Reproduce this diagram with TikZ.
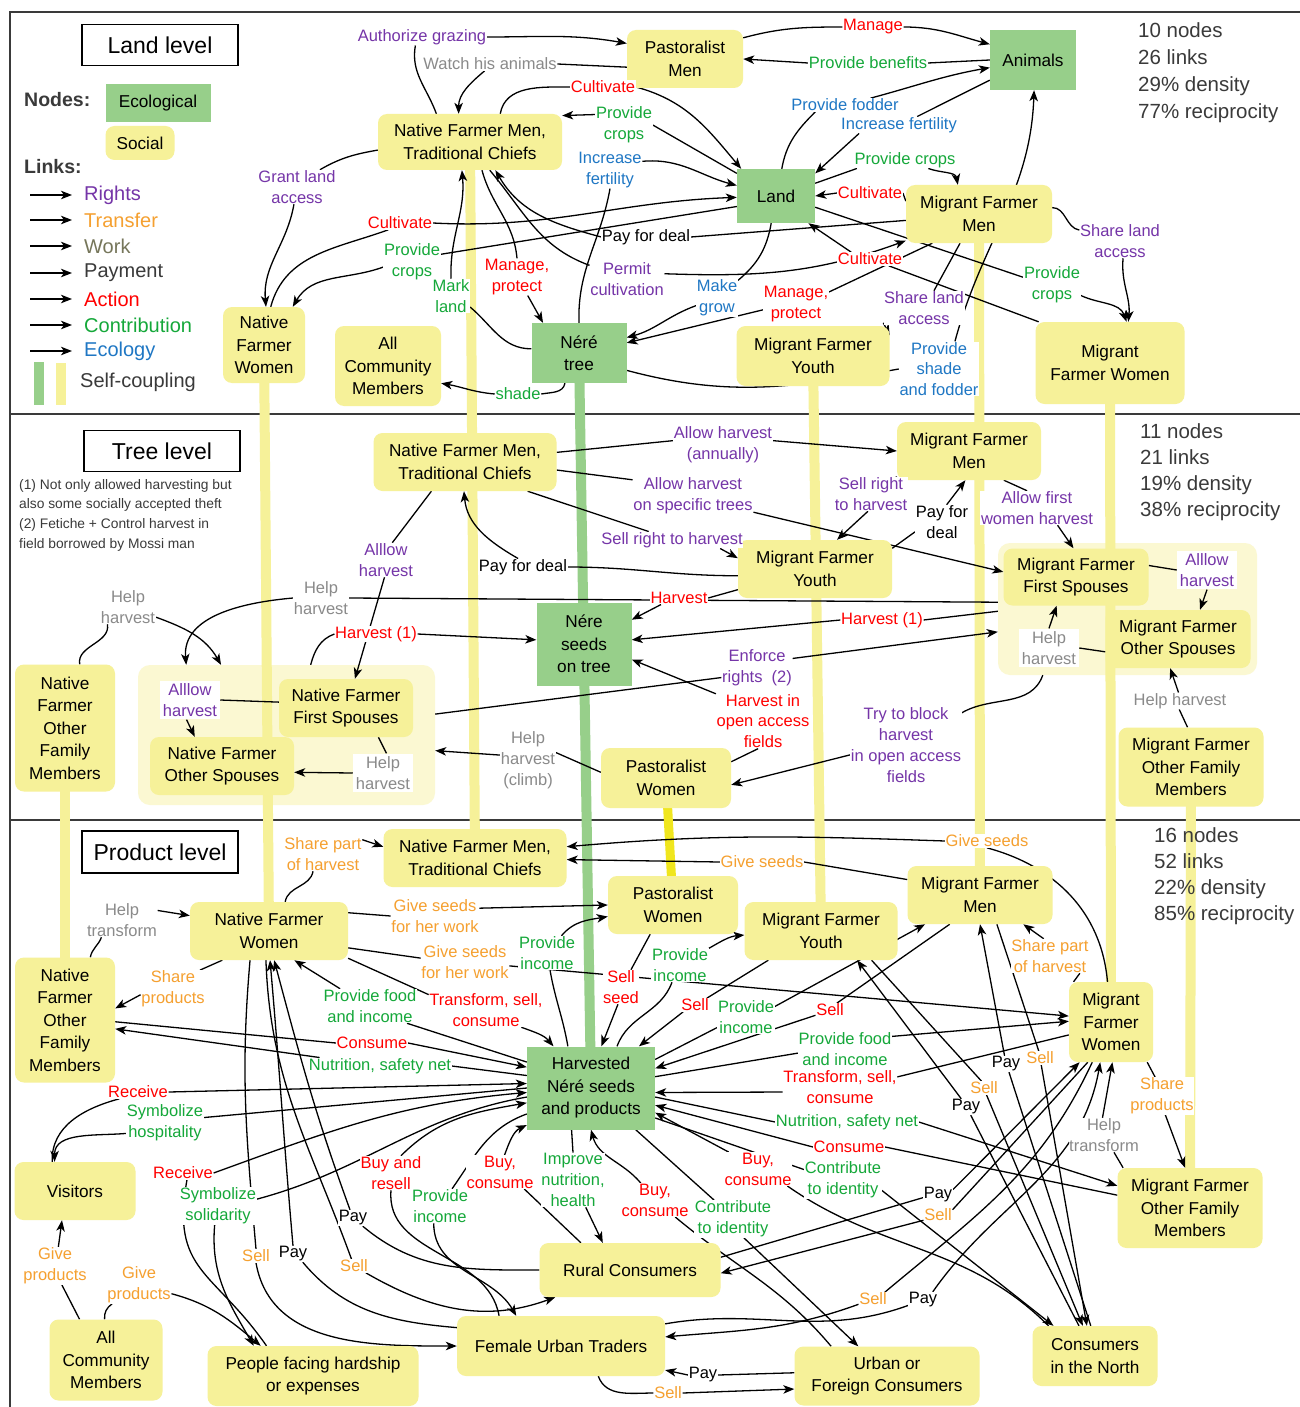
\documentclass[tikz,border=0pt]{standalone}
\usepackage{fontspec}
\setmainfont{Liberation Sans}
\usetikzlibrary{arrows.meta}
\pgfdeclarelayer{bg}
\pgfdeclarelayer{grp}
\pgfdeclarelayer{bars}
\pgfdeclarelayer{edges}
\pgfsetlayers{bg,grp,bars,edges,main}
\definecolor{ylw}{HTML}{F6F199}
\definecolor{grn}{HTML}{97CF8A}
\definecolor{grpc}{HTML}{FBF8D2}
\definecolor{crt}{HTML}{7535A8}
\definecolor{ctr}{HTML}{F5A030}
\definecolor{cwk}{HTML}{8A8A8A}
\definecolor{cwkl}{HTML}{76765A}
\definecolor{cac}{HTML}{FF0000}
\definecolor{cct}{HTML}{15A83A}
\definecolor{cec}{HTML}{1F77C4}
\definecolor{dkg}{HTML}{3A3A3A}
\definecolor{pwbar}{HTML}{F0E61E}
\newcommand\nodefnt{\fontsize{17.2}{22.5}\selectfont}
\newcommand\lblfnt{\fontsize{16.5}{20.8}\selectfont}
\newcommand\legfnt{\fontsize{20}{24}\selectfont}
\newcommand\statfntA{\fontsize{20.5}{27}\selectfont}
\newcommand\statfntB{\fontsize{20.5}{26}\selectfont}
\newcommand\ttlfnt{\fontsize{23}{27}\selectfont}
\newcommand\fnfnt{\fontsize{13.8}{19.7}\selectfont}
\begin{document}
\begin{tikzpicture}[x=1pt,y=-1pt,
 soc/.style={fill=ylw, rounded corners=9pt, align=center, font=\nodefnt, inner sep=1pt},
 eco/.style={fill=grn, align=center, font=\nodefnt, inner sep=1pt},
 sz/.style 2 args={minimum width=#1pt, minimum height=#2pt},
 lb/.style={fill=white, inner sep=0.6pt, align=center, font=\lblfnt},
 wb/.style={fill=white, inner sep=3pt, align=center, font=\lblfnt},
 rt/.style={text=crt}, tr/.style={text=ctr}, wk/.style={text=cwk}, py/.style={text=black},
 ac/.style={text=cac}, ct/.style={text=cct}, ec/.style={text=cec},
 ed/.style={draw=black, line width=1.3pt, -{Stealth[length=11pt,width=8.5pt,inset=3pt]}},
 ybar/.style={draw=ylw, line width=10pt},
 gbar/.style={draw=grn, line width=10pt},
 frame/.style={draw=dkg, line width=2pt},
 ttl/.style={draw=black, line width=1.3pt, font=\ttlfnt, inner sep=2pt}]
\useasboundingbox (0,0) rectangle (1300,1407);
\begin{pgfonlayer}{bg}
\fill[white] (0,0) rectangle (1300,1407);
\draw[frame] (10,1407) -- (10,12) -- (1300,12);
\draw[frame] (10,414) -- (1300,414);
\draw[frame] (10,820) -- (1300,820);
\end{pgfonlayer}

% ================= LEGEND =================
\node[ttl,sz={156}{41}] (tl1) at (160,45) {Land level};
\node[anchor=west, font=\bfseries\fontsize{19.5}{22}\selectfont, text=dkg, inner sep=0pt] (legN) at (24,100) {Nodes:};
\node[eco,sz={105}{38}] (legE) at (158,103) {Ecological};
\node[soc,sz={69}{34}] (legS) at (140,143) {Social};
\node[anchor=west, font=\bfseries\fontsize{19.5}{22}\selectfont, text=dkg, inner sep=0pt] (legL) at (24,167) {Links:};
\foreach \yy/\lgtxt/\lgcol in {195/Rights/crt,220/Transfer/ctr,246/Work/cwkl,273/Payment/dkg,299/Action/cac,325/Contribution/cct,351/Ecology/cec}{
  \coordinate (lgs\yy) at (30,\yy);
  \coordinate (lge\yy) at (72,\yy);
  \node[anchor=west, font=\legfnt, text=\lgcol, inner sep=0pt] (lgt\yy) at (84,\yy) {\lgtxt};
  \draw[ed] (lgs\yy) -- (lge\yy);
}
\fill[grn] (34,362) rectangle (44,405);
\fill[ylw] (56,363) rectangle (66,405);
\node[anchor=west, font=\legfnt, text=dkg, inner sep=0pt] (legSC) at (80,382) {Self-coupling};

\node[anchor=north west, align=left, font=\statfntA, text=dkg, inner sep=0pt] (st1) at (1138,22) {10 nodes\\26 links\\29\% density\\77\% reciprocity};
\node[anchor=north west, align=left, font=\statfntB, text=dkg, inner sep=0pt] (st2) at (1140,423) {11 nodes\\21 links\\19\% density\\38\% reciprocity};
\node[anchor=north west, align=left, font=\statfntB, text=dkg, inner sep=0pt] (st3) at (1154,827) {16 nodes\\52 links\\22\% density\\85\% reciprocity};

\node[ttl,sz={156}{41}] (tl2) at (162,451) {Tree level};
\node[anchor=north west, align=left, font=\fnfnt, text=dkg, inner sep=0pt] (fn) at (19,479) {(1) Not only allowed harvesting but\\also some socially accepted theft\\(2) Fetiche + Control harvest in\\field borrowed by Mossi man};
\node[ttl,sz={156}{42}] (tl3) at (160,852) {Product level};

% ================= LAND LEVEL =================
\node[soc,sz={116}{58}] (pm1) at (685,59) {Pastoralist\\Men};
\node[eco,sz={86}{60}] (an1) at (1033,60) {Animals};
\node[soc,sz={184}{56}] (nfm1) at (470,142) {Native Farmer Men,\\Traditional Chiefs};
\node[eco,sz={78}{54}] (la1) at (776,196) {Land};
\node[soc,sz={146}{58}] (mfm1) at (979,214) {Migrant Farmer\\Men};
\node[soc,sz={82}{76}] (nfw1) at (264,345) {Native\\Farmer\\Women};
\node[soc,sz={106}{80}] (ac1) at (388,366) {All\\Community\\Members};
\node[eco,sz={95}{60}] (nt1) at (579,353) {Néré\\tree};
\node[soc,sz={153}{60}] (mfy1) at (813,356) {Migrant Farmer\\Youth};
\node[soc,sz={149}{82}] (mfw1) at (1110,363) {Migrant\\Farmer Women};

\node[lb,rt] (Lauth) at (422,37) {Authorize grazing};
\node[lb,wk] (Lwatch) at (490,64) {Watch his animals};
\node[lb,ac] (Lman) at (873,27) {Manage};
\node[lb,ct] (Lben) at (868,63) {Provide benefits};
\node[lb,ac] (Lcult1) at (603,87) {Cultivate};
\node[lb,ct] (Lpc1) at (624,125) {Provide\\crops};
\node[lb,ec] (Lif1) at (610,170) {Increase\\fertility};
\node[lb,ec] (Lfod) at (845,105) {Provide fodder};
\node[lb,ec] (Lif2) at (899,125) {Increase fertility};
\node[lb,ct] (Lpc2) at (905,160) {Provide crops};
\node[lb,ac] (Lcult2) at (870,193) {Cultivate};
\node[lb,py] (Lpay) at (646,237) {Pay for deal};
\node[lb,ac] (Lcult3) at (870,259) {Cultivate};
\node[lb,ct] (Lpc3) at (1052,285) {Provide\\crops};
\node[lb,rt] (Lsla1) at (1120,241) {Share land\\access};
\node[lb,rt] (Lgla) at (297,187) {Grant land\\access};
\node[lb,ac] (Lcult4) at (400,223) {Cultivate};
\node[lb,ct] (Lpc4) at (412,262) {Provide\\crops};
\node[lb,ct] (Lmark) at (451,296) {Mark\\land};
\node[lb,ac] (Lmp1) at (517,277) {Manage,\\protect};
\node[lb,rt] (Lperm) at (627,279) {Permit\\cultivation};
\node[lb,ec] (Lmg) at (717,298) {Make\\grow};
\node[lb,ac] (Lmp2) at (796,304) {Manage,\\protect};
\node[lb,rt] (Lsla2) at (924,308) {Share land\\access};
\node[lb,ec] (Lpssf) at (939,369) {Provide\\shade\\and fodder};
\node[lb,ct] (Lshade) at (518,394) {shade};

% ================= TREE LEVEL =================
\begin{pgfonlayer}{grp}
\node[fill=grpc, rounded corners=12pt, sz={297}{140}] (grpN) at (286.5,735) {};
\node[fill=grpc, rounded corners=12pt, sz={259}{132}] (grpM) at (1127.5,609) {};
\end{pgfonlayer}
\node[soc,sz={183}{58}] (nfm2) at (465,462) {Native Farmer Men,\\Traditional Chiefs};
\node[soc,sz={144}{58}] (mfm2) at (969,451) {Migrant Farmer\\Men};
\node[soc,sz={154}{58}] (mfy2) at (815,569) {Migrant Farmer\\Youth};
\node[eco,sz={95}{83}] (ns2) at (584,644) {Nére\\seeds\\on tree};
\node[soc,sz={134}{58}] (nffs2) at (346,708) {Native Farmer\\First Spouses};
\node[soc,sz={144}{58}] (nfos2) at (222,766) {Native Farmer\\Other Spouses};
\node[soc,sz={100}{127}] (nofm2) at (65,728) {Native\\Farmer\\Other\\Family\\Members};
\node[soc,sz={130}{60}] (pw2) at (666,778) {Pastoralist\\Women};
\node[soc,sz={145}{57}] (mffs2) at (1076,577) {Migrant Farmer\\First Spouses};
\node[soc,sz={145}{58}] (mfos2) at (1178,639) {Migrant Farmer\\Other Spouses};
\node[soc,sz={145}{79}] (mofm2) at (1191,767) {Migrant Farmer\\Other Family\\Members};

\node[lb,rt] (Tah1) at (723,445) {Allow harvest\\(annually)};
\node[lb,rt] (Tahs) at (693,496) {Allow harvest\\on specific trees};
\node[lb,rt] (Tsrh) at (672,540) {Sell right to harvest};
\node[lb,rt] (Tsrh2) at (871,494) {Sell right\\to harvest};
\node[lb,py] (Tpfd2) at (942,522) {Pay for\\deal};
\node[lb,rt] (Tafw) at (1037,508) {Allow first\\women harvest};
\node[lb,py] (Tpfd) at (523,567) {Pay for deal};
\node[lb,rt] (Tal1) at (386,560) {Alllow\\harvest};
\node[lb,wk] (Thh1) at (128,607) {Help\\harvest};
\node[lb,wk] (Thh2) at (321,598) {Help\\harvest};
\node[lb,ac] (Tharv1) at (376,634) {Harvest (1)};
\node[lb,ac] (Tharv) at (679,598) {Harvest};
\node[lb,ac] (Tharv2) at (882,620) {Harvest (1)};
\node[lb,rt] (Tenf) at (757,668) {Enforce\\rights~~(2)};
\node[lb,ac] (Thio) at (763,721) {Harvest in\\open access\\fields};
\node[lb,rt] (Ttbh) at (906,745) {Try to block\\harvest\\in open access\\fields};
\node[lb,wk] (Thhc) at (528,760) {Help\\harvest\\(climb)};
\node[wb,rt] (Tal2) at (190,700) {Alllow\\harvest};
\node[wb,wk] (Thh3) at (383,773) {Help\\harvest};
\node[wb,rt] (Tal3) at (1207,570) {Alllow\\harvest};
\node[wb,wk] (Thh4) at (1049,648) {Help\\harvest};
\node[lb,wk] (Thh5) at (1180,701) {Help harvest};

% ================= PRODUCT LEVEL =================
\node[soc,sz={183}{58}] (nfm3) at (475,858) {Native Farmer Men,\\Traditional Chiefs};
\node[soc,sz={158}{58}] (nfw3) at (269,931) {Native Farmer\\Women};
\node[soc,sz={130}{58}] (pw3) at (673,905) {Pastoralist\\Women};
\node[soc,sz={153}{58}] (mfy3) at (821,931) {Migrant Farmer\\Youth};
\node[soc,sz={145}{58}] (mfm3) at (980,895) {Migrant Farmer\\Men};
\node[soc,sz={100}{125}] (nofm3) at (65,1020) {Native\\Farmer\\Other\\Family\\Members};
\node[soc,sz={84}{80}] (mfw3) at (1111,1022) {Migrant\\Farmer\\Women};
\node[eco,sz={128}{83}] (hv3) at (591,1088) {Harvested\\Néré seeds\\and products};
\node[soc,sz={145}{80}] (mofm3) at (1190,1208) {Migrant Farmer\\Other Family\\Members};
\node[soc,sz={121}{58}] (vis3) at (75,1191) {Visitors};
\node[soc,sz={181}{54}] (rc3) at (630,1270) {Rural Consumers};
\node[soc,sz={113}{81}] (acm3) at (106,1360) {All\\Community\\Members};
\node[soc,sz={211}{60}] (pfh3) at (313,1376) {People facing hardship\\or expenses};
\node[soc,sz={208}{60}] (fut3) at (561,1346) {Female Urban Traders};
\node[soc,sz={185}{59}] (ufc3) at (887,1376) {Urban or\\Foreign Consumers};
\node[soc,sz={125}{60}] (cn3) at (1095,1356) {Consumers\\in the North};

\node[lb,tr] (Psph1) at (323,854) {Share part\\of harvest};
\node[lb,tr] (Pgs1) at (762,862) {Give seeds};
\node[lb,tr] (Pgs2) at (987,841) {Give seeds};
\node[lb,wk] (Pht1) at (122,920) {Help\\transform};
\node[lb,tr] (Pgsw1) at (435,916) {Give seeds\\for her work};
\node[lb,tr] (Pgsw2) at (465,962) {Give seeds\\for her work};
\node[lb,ct] (Ppi1) at (547,953) {Provide\\income};
\node[lb,ac] (Pss) at (621,987) {Sell\\seed};
\node[lb,ct] (Ppi2) at (680,965) {Provide\\income};
\node[lb,ac] (Ps1) at (695,1005) {Sell};
\node[lb,ct] (Ppi3) at (746,1017) {Provide\\income};
\node[lb,ac] (Ps2) at (830,1010) {Sell};
\node[lb,ct] (Ppfi2) at (845,1049) {Provide food\\and income};
\node[lb,ac] (Ptsc2) at (840,1087) {Transform, sell,\\consume};
\node[lb,ct] (Pnsn2) at (847,1122) {Nutrition, safety net};
\node[lb,ac] (Pcon2) at (849,1147) {Consume};
\node[lb,ct] (Pcti2) at (843,1180) {Contribute\\to identity};
\node[lb,ac] (Pbc3) at (758,1169) {Buy,\\consume};
\node[lb,ac] (Pbc2) at (655,1200) {Buy,\\consume};
\node[lb,ct] (Pcti1) at (733,1219) {Contribute\\to identity};
\node[lb,ct] (Pinh) at (573,1180) {Improve\\nutrition,\\health};
\node[lb,ac] (Pbc1) at (500,1172) {Buy,\\consume};
\node[lb,ac] (Pbar) at (391,1173) {Buy and\\resell};
\node[lb,ct] (Ppi4) at (440,1206) {Provide\\income};
\node[lb,ac] (Prec1) at (138,1092) {Receive};
\node[lb,ct] (Psh) at (165,1123) {Symbolize\\hospitality};
\node[lb,ac] (Prec2) at (183,1173) {Receive};
\node[lb,ct] (Pssol) at (218,1206) {Symbolize\\solidarity};
\node[lb,tr] (Pgp1) at (55,1266) {Give\\products};
\node[lb,tr] (Pgp2) at (139,1285) {Give\\products};
\node[lb,tr] (Pshp1) at (173,989) {Share\\products};
\node[lb,ct] (Ppfi1) at (370,1006) {Provide food\\and income};
\node[lb,ac] (Ptsc1) at (486,1010) {Transform, sell,\\consume};
\node[lb,ac] (Pcon1) at (372,1043) {Consume};
\node[lb,ct] (Pnsn1) at (380,1066) {Nutrition, safety net};
\node[lb,tr] (Psell1) at (256,1256) {Sell};
\node[lb,py] (Ppay1) at (293,1254) {Pay};
\node[lb,py] (Ppay2) at (353,1218) {Pay};
\node[lb,tr] (Psell2) at (354,1266) {Sell};
\node[lb,py] (Ppay3) at (1006,1064) {Pay};
\node[lb,tr] (Psell3) at (1040,1058) {Sell};
\node[lb,tr] (Psell4) at (984,1088) {Sell};
\node[lb,py] (Ppay4) at (966,1107) {Pay};
\node[lb,py] (Ppay5) at (938,1195) {Pay};
\node[lb,tr] (Psell5) at (938,1215) {Sell};
\node[lb,tr] (Psell6) at (873,1299) {Sell};
\node[lb,py] (Ppay6) at (923,1300) {Pay};
\node[lb,py] (Ppay7) at (703,1375) {Pay};
\node[lb,tr] (Psell7) at (668,1393) {Sell};
\node[lb,tr] (Pshp2) at (1162,1096) {Share\\products};
\node[lb,wk] (Pht2) at (1104,1135) {Help\\transform};
\node[lb,tr] (Psph2) at (1050,956) {Share part\\of harvest};

% ================= SELF-COUPLING BARS =================
\begin{pgfonlayer}{bars}
\draw[ybar] (nfm1.center) -- (nfm3.center);
\draw[ybar] (nfw1.center) -- (nfw3.center);
\draw[ybar] (nofm2.center) -- (nofm3.center);
\draw[gbar] (nt1.center) -- (hv3.center);
\draw[draw=pwbar, line width=9pt] (pw2.center) -- (pw3.center);
\draw[ybar] (mfy1.center) -- (mfy3.center);
\draw[ybar] (mfm1.center) -- (mfm3.center);
\draw[ybar] (mfw1.center) -- (mfw3.center);
\draw[ybar] (mofm2.center) -- (mofm3.center);
\end{pgfonlayer}

% ================= EDGES =================
\begin{pgfonlayer}{edges}
% land
\draw[ed] (nfm1.140) to[out=110,in=260] (Lauth.232) (Lauth.east) to[out=0,in=170] (pm1.165);
\draw[ed] (pm1.188) -- (Lwatch.east) (Lwatch.232) to[out=220,in=90] (nfm1.112);
\draw[ed] (pm1.20) to[out=15,in=180] (Lman.west) (Lman.east) to[out=0,in=165] (an1.160);
\draw[ed] (an1.180) -- (Lben.east) (Lben.west) -- (pm1.east);
\draw[ed] (nfm1.43) to[out=80,in=180] (Lcult1.west) (Lcult1.east) to[out=-15,in=130] (la1.142);
\draw[ed] (la1.150) -- (Lpc1.east) (Lpc1.160) -- (nfm1.16);
\draw[ed] (nt1.north) to[out=92,in=-100] (Lif1.south) (Lif1.15) to[out=5,in=165] (la1.165);
\draw[ed] (la1.78) to[out=80,in=225] (Lfod.193) (Lfod.15) to[out=15,in=190] (an1.190);
\draw[ed] (an1.205) -- (Lif2.25) (Lif2.192) -- (la1.30);
\draw[ed] (la1.18) -- (Lpc2.190) (Lpc2.-20) to[out=-20,in=100] (mfm1.126);
\draw[ed] (mfm1.170) -- (Lcult2.east) (Lcult2.west) -- (la1.east);
\draw[ed] (mfm1.185) -- (Lpay.east) (Lpay.west) to[out=165,in=-60] (nfm1.-48);
\draw[ed] (mfw1.150) -- (Lcult3.-20) (Lcult3.160) -- (la1.-40);
\draw[ed] (la1.-16) -- (Lpc3.165) (Lpc3.-20) to[out=-25,in=110] (mfw1.68);
\draw[ed] (mfm1.5) to[out=0,in=170] (Lsla1.165) (Lsla1.-80) to[out=-95,in=85] (mfw1.66);
\draw[ed] (nfm1.185) to[out=190,in=30] (Lgla.37) (Lgla.-100) to[out=-100,in=95] (nfw1.87);
\draw[ed] (nfw1.80) to[out=75,in=200] (Lcult4.210) (Lcult4.east) to[out=-3,in=182] (la1.182);
\draw[ed] (la1.195) -- (Lpc4.15) (Lpc4.190) to[out=200,in=60] (nfw1.53);
\draw[ed] (nt1.175) to[out=180,in=-40] (Lmark.-30) (Lmark.north) to[out=92,in=-85] (nfm1.-106);
\draw[ed] (nfm1.-67) to[out=-75,in=95] (Lmp1.north) (Lmp1.-60) -- (nt1.140);
\draw[ed] (nfm1.-55) to[out=-50,in=160] (Lperm.160) (Lperm.8) to[out=-2,in=200] (mfm1.200);
\draw[ed] (la1.-100) to[out=-100,in=40] (Lmg.40) (Lmg.200) to[out=200,in=15] (nt1.18);
\draw[ed] (mfm1.212) -- (Lmp2.20) (Lmp2.190) -- (nt1.12);
\draw[ed] (mfm1.237) -- (Lsla2.60) (Lsla2.200) -- (mfy1.15);
\draw[ed] (nt1.-20) to[out=-15,in=190] (Lpssf.west) (Lpssf.60) to[out=75,in=-92] (an1.-88);
\draw[ed] (nt1.-115) to[out=-100,in=10] (Lshade.east) (Lshade.west) to[out=175,in=-10] (ac1.-18);
% tree
\draw[ed] (nfm2.6) -- (Tah1.175) (Tah1.5) -- (mfm2.west);
\draw[ed] (nfm2.-5) -- (Tahs.165) (Tahs.-15) -- (mffs2.176);
\draw[ed] (nfm2.-25) -- (Tsrh.160) (Tsrh.-10) -- (mfy2.172);
\draw[ed] (mfy2.185) to[out=180,in=0] (Tpfd.east) (Tpfd.120) to[out=150,in=-85] (nfm2.-92);
\draw[ed] (mfm2.-160) -- (Tsrh2.35) (Tsrh2.-100) -- (mfy2.53);
\draw[ed] (mfy2.15) -- (Tpfd2.200) (Tpfd2.75) -- (mfm2.-97);
\draw[ed] (mfm2.-40) -- (Tafw.120) (Tafw.-40) -- (mffs2.95);
\draw[ed] (nfm2.-139) -- (Tal1.70) (Tal1.-95) -- (nffs2.73);
\draw[ed] (grpN.71) to[out=75,in=200] (Tharv1.west) (Tharv1.east) -- (ns2.175);
\draw[ed] (grpM.177) -- (Thh2.east) (Thh2.west) to[out=185,in=95] (grpN.145);
\draw[ed] (nofm2.77) to[out=100,in=-80] (Thh1.220) (Thh1.-20) to[out=-20,in=120] (grpN.133);
\draw[ed] (mfy2.-165) -- (Tharv.east) (Tharv.200) -- (ns2.27);
\draw[ed] (grpM.181) -- (Tharv2.east) (Tharv2.west) -- (ns2.5);
\draw[ed] (grpN.8) -- (Tenf.195) (Tenf.15) -- (grpM.190);
\draw[ed] (pw2.14) -- (Thio.-100) (Thio.150) -- (ns2.-18);
\draw[ed] (grpM.218) to[out=-110,in=30] (Ttbh.30) (Ttbh.190) -- (pw2.-6);
\draw[ed] (pw2.175) -- (Thhc.15) (Thhc.170) -- (grpN.-6);
\draw[ed] (nffs2.175) -- (Tal2.east) (Tal2.-100) -- (nfos2.133);
\draw[ed] (nffs2.-42) -- (Thh3.80) (Thh3.west) -- (nfos2.-5);
\draw[ed] (mffs2.9) -- (Tal3.west) (Tal3.south) -- (mfos2.53);
\draw[ed] (mfos2.190) -- (Thh4.east) (Thh4.north) -- (mffs2.-124);
\draw[ed] (mofm2.95) -- (Thh5.-95) (Thh5.100) -- (mfos2.-105);
% product
\draw[ed] (nfw3.61) to[out=80,in=-100] (Psph1.-120) (Psph1.20) -- (nfm3.173);
\draw[ed] (mfm3.168) -- (Pgs1.east) (Pgs1.west) -- (nfm3.-1);
\draw[ed] (mfw3.95) to[out=95,in=-15] (Pgs2.south) (Pgs2.west) to[out=178,in=5] (nfm3.7);
\draw[ed] (nofm3.68) to[out=80,in=-110] (Pht1.220) (Pht1.15) -- (nfw3.169);
\draw[ed] (nfw3.13) -- (Pgsw1.west) (Pgsw1.10) -- (pw3.180);
\draw[ed] (nfw3.-12) -- (Pgsw2.175) (Pgsw2.-5) -- (mfw3.172);
\draw[ed] (hv3.119) to[out=100,in=-80] (Ppi1.-80) (Ppi1.50) to[out=50,in=190] (pw3.190);
\draw[ed] (pw3.232) -- (Pss.60) (Pss.-100) -- (hv3.76);
\draw[ed] (hv3.58) to[out=70,in=-110] (Ppi2.-115) (Ppi2.30) to[out=30,in=185] (mfy3.183);
\draw[ed] (mfy3.209) -- (Ps1.30) (Ps1.210) -- (hv3.41);
\draw[ed] (hv3.24) -- (Ppi3.200) (Ppi3.20) -- (mfm3.208);
\draw[ed] (mfm3.224) -- (Ps2.45) (Ps2.200) -- (hv3.17);
\draw[ed] (hv3.10) -- (Ppfi2.185) (Ppfi2.15) -- (mfw3.179);
\draw[ed] (mfw3.197) -- (Ptsc2.10) (Ptsc2.185) -- (hv3.-4);
\draw[ed] (hv3.-8) -- (Pnsn2.west) (Pnsn2.east) -- (mofm3.163);
\draw[ed] (mofm3.170) -- (Pcon2.east) (Pcon2.west) -- (hv3.-15);
\draw[ed] (hv3.-25) -- (Pcti2.165) (Pcti2.-15) -- (cn3.144);
\draw[ed] (cn3.147) to[out=135,in=-35] (Pbc3.-30) (Pbc3.150) -- (hv3.-21);
\draw[ed] (ufc3.152) to[out=130,in=-40] (Pbc2.-40) (Pbc2.130) to[out=130,in=-75] (hv3.-90);
\draw[ed] (hv3.-43) -- (Pcti1.135) (Pcti1.-60) -- (ufc3.134);
\draw[ed] (hv3.-115) -- (Pinh.north) (Pinh.-65) -- (rc3.135);
\draw[ed] (rc3.151) -- (Pbc1.-35) (Pbc1.75) to[out=70,in=205] (hv3.210);
\draw[ed] (fut3.154) to[out=100,in=-95] (Pbar.south) (Pbar.60) to[out=45,in=190] (hv3.193);
\draw[ed] (hv3.202) to[out=200,in=55] (Ppi4.55) (Ppi4.-110) to[out=-90,in=120] (fut3.146);
\draw[ed] (vis3.128) to[out=92,in=195] (Prec1.200) (Prec1.east) -- (hv3.176);
\draw[ed] (hv3.180) -- (Psh.8) (Psh.195) to[out=185,in=90] (vis3.125);
\draw[ed] (pfh3.147) to[out=125,in=-100,looseness=1.3] (Prec2.-60) (Prec2.east) to[out=20,in=185] (hv3.184);
\draw[ed] (hv3.188) to[out=190,in=15] (Pssol.10) (Pssol.-100) to[out=-95,in=120] (pfh3.153);
\draw[ed] (acm3.123) -- (Pgp1.-70) (Pgp1.80) -- (vis3.-114);
\draw[ed] (acm3.92) to[out=95,in=215] (Pgp2.215) (Pgp2.-15) to[out=-15,in=140] (pfh3.150);
\draw[ed] (nfw3.212) -- (Pshp1.35) (Pshp1.190) -- (nofm3.13);
\draw[ed] (hv3.158) -- (Ppfi1.-25) (Ppfi1.150) -- (nfw3.-49);
\draw[ed] (nfw3.-19) -- (Ptsc1.165) (Ptsc1.-26) to[out=-20,in=130] (hv3.132);
\draw[ed] (nofm3.-2) -- (Pcon1.west) (Pcon1.east) -- (hv3.162);
\draw[ed] (hv3.169) -- (Pnsn1.east) (Pnsn1.172) -- (nofm3.-10);
\draw[ed] (nfw3.-123) to[out=-95,in=95] (Psell1.north) (Psell1.south) to[out=-80,in=180] (fut3.west);
\draw[ed] (fut3.170) to[out=175,in=-50] (Ppay1.-40) (Ppay1.north) to[out=95,in=-85] (nfw3.-88);
\draw[ed] (rc3.west) to[out=180,in=-40] (Ppay2.-40) (Ppay2.110) to[out=110,in=-75] (nfw3.-80);
\draw[ed] (nfw3.-96) to[out=-88,in=110] (Psell2.110) (Psell2.-30) to[out=-30,in=200] (rc3.200);
\draw[ed] (mfm3.-60) -- (Psell3.100) (Psell3.-80) -- (cn3.105);
\draw[ed] (cn3.98) -- (Ppay3.-70) (Ppay3.100) -- (mfm3.-90);
\draw[ed] (mfy3.-30) -- (Psell4.110) (Psell4.-70) -- (cn3.112);
\draw[ed] (cn3.118) -- (Ppay4.-60) (Ppay4.120) -- (mfy3.-39);
\draw[ed] (rc3.8) -- (Ppay5.190) (Ppay5.20) -- (mfw3.232);
\draw[ed] (mfw3.240) -- (Psell5.20) (Psell5.200) -- (rc3.-2);
\draw[ed] (mfw3.245) to[out=-115,in=40] (Psell6.30) (Psell6.200) to[out=200,in=5] (fut3.5);
\draw[ed] (fut3.12) to[out=10,in=200] (Ppay6.200) (Ppay6.40) to[out=55,in=-100] (mfw3.-105);
\draw[ed] (ufc3.178) -- (Ppay7.east) (Ppay7.west) -- (fut3.-13);
\draw[ed] (fut3.-39) to[out=-70,in=180] (Psell7.west) (Psell7.east) -- (ufc3.188);
\draw[ed] (mfw3.-48) -- (Pshp2.110) (Pshp2.-80) -- (mofm3.97);
\draw[ed] (mofm3.149) to[out=120,in=-60] (Pht2.-60) (Pht2.95) -- (mfw3.-88);
\draw[ed] (mfw3.133) -- (Psph2.-30) (Psph2.110) -- (mfm3.-34);
\end{pgfonlayer}
\end{tikzpicture}
\end{document}
